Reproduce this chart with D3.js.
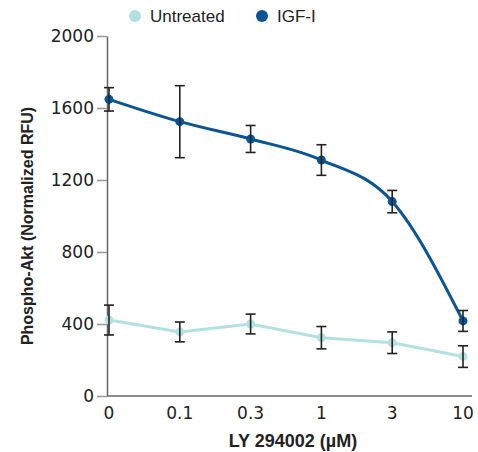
<!DOCTYPE html>
<meta charset="utf-8">
<head>
<script src="https://d3js.org/d3.v7.min.js"></script>
<style>
  body { margin: 0; background: #fff; }
  text { font-family: "Liberation Sans", Arial, sans-serif; fill: #222; }
  .num { font-family: "DejaVu Sans", sans-serif; }
</style>
</head>
<body>
<svg id="chart" width="478" height="452"></svg>
<script>
// doses of LY 294002 (uM), shown as evenly spaced categories
var doses = ["0", "0.1", "0.3", "1", "3", "10"];
var yTicks = [0, 400, 800, 1200, 1600, 2000];

// IGF-I stimulated
var igfMean = [1648, 1524, 1428, 1311, 1080, 417];
var igfErr  = [65, 200, 75, 85, 62, 58];

// untreated
var untreatedMean = [422, 356, 400, 324, 296, 219];
var untreatedErr  = [83, 55, 55, 62, 60, 60];

var svg = d3.select("#chart");

var x = d3.scalePoint()
  .domain(doses)
  .range([109, 463]);

var y = d3.scaleLinear()
  .domain([0, 2000])
  .range([396, 36]);

// axes
var yAxis = svg.append("g")
  .attr("transform", "translate(107,0)")
  .call(d3.axisLeft(y).tickValues(yTicks).tickFormat(d3.format("d"))
    .tickSize(10).tickPadding(3).tickSizeOuter(0));
yAxis.select(".domain").attr("stroke", "#666").attr("stroke-width", 1.5);
yAxis.selectAll(".tick line").attr("stroke", "#999").attr("stroke-width", 1.5);
yAxis.selectAll(".tick text").attr("class", "num").style("font-size", "17px").attr("fill", "#222");

var xAxis = svg.append("g")
  .attr("transform", "translate(0,396)");
xAxis.append("line")
  .attr("x1", 107).attr("x2", 472)
  .attr("stroke", "#666").attr("stroke-width", 1.5);
xAxis.selectAll("text")
  .data(doses)
  .enter().append("text")
  .attr("class", "num")
  .attr("x", function (d) { return x(d); })
  .attr("y", 23)
  .attr("text-anchor", "middle")
  .style("font-size", "17px")
  .text(function (d) { return d; });

// axis titles
svg.append("text")
  .attr("x", 293).attr("y", 447)
  .attr("text-anchor", "middle")
  .style("font-size", "18px").style("font-weight", "bold")
  .attr("fill", "#333")
  .text("LY 294002 (µM)");

svg.append("text")
  .attr("transform", "translate(33,226) rotate(-90)")
  .attr("text-anchor", "middle")
  .style("font-size", "16px").style("font-weight", "bold")
  .attr("fill", "#333")
  .text("Phospho-Akt (Normalized RFU)");

function drawSeries(mean, err, color, curve) {
  var pts = doses.map(function (d, i) { return { dose: d, v: mean[i], e: err[i] }; });
  var line = d3.line()
    .x(function (d) { return x(d.dose); })
    .y(function (d) { return y(d.v); })
    .curve(curve);

  svg.append("path")
    .datum(pts)
    .attr("d", line)
    .attr("fill", "none")
    .attr("stroke", color)
    .attr("stroke-width", 3);

  svg.append("g").selectAll("circle")
    .data(pts)
    .enter().append("circle")
    .attr("cx", function (d) { return x(d.dose); })
    .attr("cy", function (d) { return y(d.v); })
    .attr("r", 4.5)
    .attr("fill", color);

  var eb = svg.append("g")
    .attr("stroke", "#222")
    .attr("stroke-width", 1.6);
  eb.selectAll(".v")
    .data(pts).enter().append("line")
    .attr("x1", function (d) { return x(d.dose); })
    .attr("x2", function (d) { return x(d.dose); })
    .attr("y1", function (d) { return y(d.v + d.e); })
    .attr("y2", function (d) { return y(d.v - d.e); });
  eb.selectAll(".t")
    .data(pts).enter().append("line")
    .attr("x1", function (d) { return x(d.dose) - 5; })
    .attr("x2", function (d) { return x(d.dose) + 5; })
    .attr("y1", function (d) { return y(d.v + d.e); })
    .attr("y2", function (d) { return y(d.v + d.e); });
  eb.selectAll(".b")
    .data(pts).enter().append("line")
    .attr("x1", function (d) { return x(d.dose) - 5; })
    .attr("x2", function (d) { return x(d.dose) + 5; })
    .attr("y1", function (d) { return y(d.v - d.e); })
    .attr("y2", function (d) { return y(d.v - d.e); });
}

drawSeries(untreatedMean, untreatedErr, "#b3e0e0", d3.curveLinear);
drawSeries(igfMean, igfErr, "#0b5596", d3.curveMonotoneX);

// legend
var legend = [
  { name: "Untreated", color: "#b3e0e0", x: 135 },
  { name: "IGF-I", color: "#0b5596", x: 262 }
];
var lg = svg.append("g").selectAll("g")
  .data(legend).enter().append("g")
  .attr("transform", function (d) { return "translate(" + d.x + ",16)"; });
lg.append("circle").attr("r", 6).attr("fill", function (d) { return d.color; });
lg.append("text")
  .attr("x", 15).attr("y", 6)
  .style("font-size", "17px")
  .text(function (d) { return d.name; });
</script>
</body>
